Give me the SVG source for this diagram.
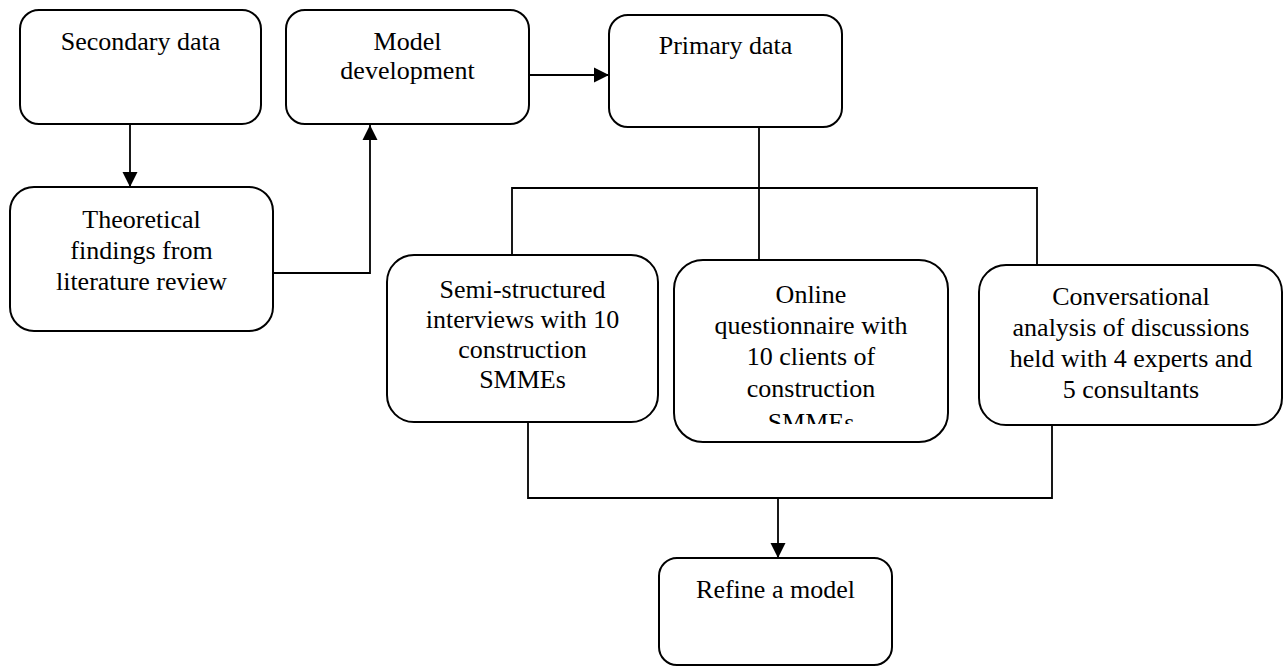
<svg xmlns="http://www.w3.org/2000/svg" width="1283" height="666" viewBox="0 0 1283 666">
<style>
.box{fill:#fff;stroke:#000;stroke-width:2}
.t{font-family:"Liberation Serif","Times New Roman",serif;font-size:26px;fill:#000;text-anchor:middle}
.c{fill:none;stroke:#000;stroke-width:1.8}
</style>
<defs>
<marker id="ah" markerUnits="userSpaceOnUse" markerWidth="16" markerHeight="16" refX="15" refY="8" orient="auto" viewBox="0 0 16 16">
<path d="M0,0.5 L15,8 L0,15.5 Z" fill="#000"/>
</marker>
<clipPath id="clipOnline"><rect x="674" y="260" width="274" height="164"/></clipPath>
</defs>
<rect width="1283" height="666" fill="#fff"/>
<g id="connectors">
<line class="c" x1="130" y1="124" x2="130" y2="187" marker-end="url(#ah)"/>
<polyline class="c" points="273,273 370,273 370,125" marker-end="url(#ah)"/>
<line class="c" x1="529" y1="75" x2="609" y2="75" marker-end="url(#ah)"/>
<line class="c" x1="759" y1="127" x2="759" y2="260"/>
<polyline class="c" points="512,255 512,188 1037,188 1037,265"/>
<polyline class="c" points="528,422 528,498 1052,498 1052,425"/>
<line class="c" x1="778" y1="498" x2="778" y2="558" marker-end="url(#ah)"/>
</g>
<g id="secondary-data">
<rect class="box" x="20" y="10" width="241" height="114" rx="19"/>
<text class="t" x="140.5" y="50">Secondary data</text>
</g>
<g id="model-development">
<rect class="box" x="286" y="10" width="243" height="114" rx="19"/>
<text class="t" x="407.5" y="50">Model</text>
<text class="t" x="407.5" y="79">development</text>
</g>
<g id="primary-data">
<rect class="box" x="609" y="15" width="233" height="112" rx="19"/>
<text class="t" x="725.5" y="54">Primary data</text>
</g>
<g id="theoretical-findings">
<rect class="box" x="10" y="187" width="263" height="144" rx="24"/>
<text class="t" x="141.5" y="228">Theoretical</text>
<text class="t" x="141.5" y="259">findings from</text>
<text class="t" x="141.5" y="290">literature review</text>
</g>
<g id="semi-structured">
<rect class="box" x="387" y="255" width="271" height="167" rx="27"/>
<text class="t" x="522.5" y="298">Semi-structured</text>
<text class="t" x="522.5" y="328">interviews with 10</text>
<text class="t" x="522.5" y="358">construction</text>
<text class="t" x="522.5" y="388">SMMEs</text>
</g>
<g id="online-questionnaire">
<rect class="box" x="674" y="260" width="274" height="182" rx="29"/>
<g clip-path="url(#clipOnline)">
<text class="t" x="811" y="303">Online</text>
<text class="t" x="811" y="334">questionnaire with</text>
<text class="t" x="811" y="365">10 clients of</text>
<text class="t" x="811" y="397">construction</text>
<text class="t" x="811" y="431">SMMEs</text>
</g>
</g>
<g id="conversational-analysis">
<rect class="box" x="979" y="265" width="303" height="160" rx="27"/>
<text class="t" x="1131" y="305">Conversational</text>
<text class="t" x="1131" y="336">analysis of discussions</text>
<text class="t" x="1131" y="367">held with 4 experts and</text>
<text class="t" x="1131" y="398">5 consultants</text>
</g>
<g id="refine-model">
<rect class="box" x="659" y="558" width="233" height="107" rx="18"/>
<text class="t" x="775.5" y="598">Refine a model</text>
</g>
</svg>
